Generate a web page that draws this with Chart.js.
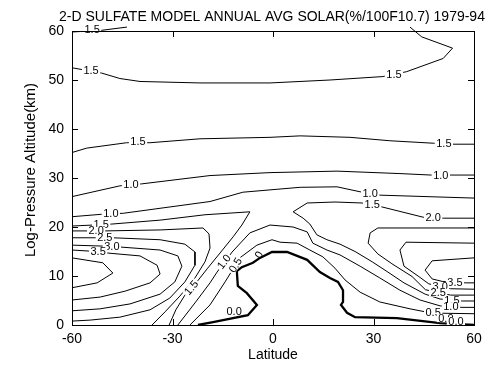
<!DOCTYPE html>
<html>
<head>
<meta charset="utf-8">
<script src="https://cdn.jsdelivr.net/npm/chart.js"></script>
<style>
  html, body { margin: 0; padding: 0; background: #fff; }
</style>
</head>
<body>
<canvas id="myChart" width="504" height="372"></canvas>
<script>
// 2-D sulfate model, annual avg solar response, contour lines
// each contour = list of [latitude, altitude km]
const FONT = '"Liberation Sans", Arial, sans-serif';
const chartTitle = '2-D SULFATE MODEL ANNUAL AVG SOLAR(%/100F10.7) 1979-94';
const latTicks = [-60, -30, 0, 30, 60];
const altTicks = [0, 10, 20, 30, 40, 50, 60];

const c15Top = [[-60, 59.8], [-51.6, 60.1], [-43.6, 60.8]];
const c15Upper = [[-60, 52.5], [-51.1, 51.4], [-45.7, 50.3], [-39.7, 49.7], [-21.8, 49.4], [-0.9, 49.4], [17.0, 50.0], [32.8, 50.7], [39.9, 51.7], [50.8, 54.4], [53.6, 56.5], [44.4, 58.8], [40.9, 60.8]];
const c15Mid = [[-60, 35.2], [-55.6, 36.1], [-43.7, 37.2], [-36.7, 37.2], [-21.8, 38.0], [-0.9, 38.3], [8.1, 38.6], [23.0, 38.3], [34.9, 37.6], [47.8, 37.1], [53.7, 36.9], [60, 36.9]];
const c10Upper = [[-60, 26.2], [-45.7, 28.4], [-39.2, 28.8], [-18.8, 30.5], [-0.9, 31.1], [19.1, 31.4], [37.9, 30.9], [47.2, 30.6], [53.4, 30.6], [60, 30.6]];
const c10Lower = [[-60, 22.1], [-51.1, 22.6], [-44.7, 22.8], [-18.8, 25.2], [-9.0, 27.1], [8.1, 28.1], [19.1, 28.2], [26.6, 27.1], [31.9, 26.5], [60, 25.9]];
const c15West = [[-60, 20.2], [-53.7, 20.4], [-48.1, 20.6], [-33.7, 21.4], [-20.3, 22.5], [-6.9, 23.1], [-9.3, 20.4], [-11.9, 18.0], [-15.8, 14.7], [-19.5, 11.6], [-22.5, 9.0], [-26.3, 6.1], [-29.0, 3.1], [-31.0, 0]];
const c20West = [[-60, 19.2], [-55.2, 19.2], [-50.2, 19.2], [-33.7, 19.4], [-20.9, 19.8], [-19.1, 18.6], [-18.8, 15.7], [-20.3, 12.9], [-23.3, 9.6], [-27.8, 5.9], [-32.2, 2.7], [-36.1, 0]];
const c25West = [[-60, 17.8], [-47.8, 17.8], [-33.7, 17.4], [-26.3, 16.5], [-23.3, 14.9], [-23.3, 12.2], [-26.3, 8.8], [-30.8, 5.5], [-36.7, 3.1], [-45.7, 1.6], [-54.6, 1.0], [-60, 0.8]];
const c30West = [[-60, 16.3], [-50.5, 16.1], [-45.4, 15.9], [-33.7, 15.3], [-28.4, 14.1], [-27.2, 12.0], [-29.3, 8.8], [-33.7, 6.3], [-42.7, 4.3], [-51.6, 3.3], [-60, 2.9]];
const c35West = [[-60, 15.3], [-55.2, 15.1], [-49.6, 14.7], [-39.7, 14.1], [-34.6, 12.2], [-33.7, 10.4], [-36.7, 8.6], [-44.2, 6.9], [-51.6, 5.7], [-60, 5.1]];
const c40West = [[-60, 13.7], [-50.8, 12.7], [-47.8, 10.6], [-52.5, 8.6], [-60, 7.6]];
const c10Centre = [[-28.4, 0], [-23.3, 4.5], [-18.8, 8.6], [-16.7, 10.8], [-12.2, 14.9], [-6.9, 18.8], [-0.9, 20.4], [6.0, 20.0], [10.2, 19.0], [11.9, 16.7], [16.1, 15.3], [20.0, 14.3], [26.0, 12.0], [31.9, 9.6], [37.9, 7.1], [43.9, 5.1], [49.9, 3.9], [56.4, 3.6], [60, 3.6]];
const c05Centre = [[-24.8, 0], [-18.8, 4.1], [-14.3, 8.8], [-12.5, 10.8], [-9.9, 13.7], [-4.8, 16.3], [-0.3, 17.4], [2.1, 16.9], [7.2, 16.7], [11.0, 15.3], [14.9, 13.9], [18.5, 11.6], [21.5, 9.2], [26.0, 6.7], [31.9, 4.7], [40.9, 3.3], [45.4, 2.7], [50.5, 2.4], [60, 2.3]];
const c00 = [[-22.4, 0], [-17.9, 0.6], [-7.5, 2.0], [-4.8, 4.1], [-7.8, 6.5], [-10.5, 8.0], [-10.8, 11.0], [-9.3, 11.8], [-6.0, 12.7], [-3.9, 13.7], [-0.3, 14.9], [4.2, 14.9], [10.2, 13.3], [14.0, 10.8], [17.0, 9.6], [19.4, 8.8], [20.9, 7.1], [20.9, 4.7], [20.3, 4.1], [22.1, 2.5], [24.5, 1.6], [37.0, 1.4], [49.9, 0.4], [60, 0]];
const c15East = [[60, 21.8], [50.8, 21.8], [44.8, 22.0], [32.5, 24.1], [26.6, 24.9], [18.5, 25.1], [10.2, 24.9], [6.0, 23.1], [9.0, 21.8], [11.0, 20.6], [13.1, 18.4], [16.1, 17.4], [20.0, 16.5], [24.5, 15.0], [29.6, 12.9], [34.3, 10.8], [39.1, 8.6], [45.4, 6.3], [49.9, 5.3], [56.5, 4.9], [60, 4.9]];
const c25East = [[60, 19.8], [31.3, 19.8], [29.0, 18.8], [28.4, 16.7], [31.3, 14.5], [35.5, 12.5], [41.5, 9.9], [45.5, 7.2], [53.0, 6.1], [60, 6.1]];
const c30East = [[60, 16.7], [39.7, 16.9], [37.9, 15.3], [39.1, 12.0], [43.3, 10.0], [46.5, 8.4], [53.0, 7.4], [60, 7.3]];
const c35East = [[60, 13.7], [47.5, 13.1], [45.4, 11.2], [47.5, 9.4], [50.5, 8.9], [57.6, 8.6], [60, 8.6]];

// contour labels: text, position (lat, km), angle in degrees, white box behind or not
const labelText = ['1.5', '1.5', '1.5', '1.5', '1.5', '1.0', '1.0', '1.0', '1.0', '1.5', '2.0', '2.5', '3.0', '3.5', '1.5', '2.0', '1.5', '1.0', '0.5', '0.0', '0', '3.5', '3.0', '2.5', '1.5', '1.0', '0.5', '0.0', '0.0'];
const labelLat = [-54.0, -54.3, 36.1, -40.3, 51.0, -42.4, 50.1, -48.4, 29.0, -51.3, -52.8, -50.2, -48.1, -52.2, 29.6, 47.8, -24.4, -14.6, -11.2, -11.6, -4.2, 54.3, 49.9, 49.3, 53.4, 53.1, 47.8, 51.6, 54.6];
const labelAlt = [60.4, 52.0, 51.2, 37.5, 37.1, 28.6, 30.6, 22.7, 26.9, 20.5, 19.2, 17.8, 16.0, 15.0, 24.5, 21.9, 7.6, 12.9, 12.2, 2.8, 14.3, 8.7, 7.8, 6.6, 5.1, 3.7, 2.6, 1.4, 0.8];
const labelAngle = [0, 0, 0, 0, 0, 0, 0, 0, 0, 0, 0, 0, 0, 0, 0, 0, -50, -53, -58, 0, -60, 0, 0, 0, 0, 0, 0, 0, 0];
const labelBox = [1, 1, 1, 1, 1, 1, 1, 1, 1, 1, 1, 1, 1, 1, 1, 1, 1, 1, 1, 0, 0, 1, 1, 1, 1, 1, 1, 1, 1];

const contours = [
  { pts: c15Top, w: 1, clip: false },
  { pts: c15Upper, w: 1, clip: false },
  { pts: c15Mid, w: 1 },
  { pts: c10Upper, w: 1 },
  { pts: c10Lower, w: 1 },
  { pts: c15West, w: 1 },
  { pts: c20West, w: 1 },
  { pts: c25West, w: 1 },
  { pts: c30West, w: 1 },
  { pts: c35West, w: 1 },
  { pts: c40West, w: 1 },
  { pts: c10Centre, w: 1 },
  { pts: c05Centre, w: 1 },
  { pts: c15East, w: 1 },
  { pts: c25East, w: 1 },
  { pts: c30East, w: 1 },
  { pts: c35East, w: 1 },
  { pts: c00, w: 2.3 }
];

const datasets = contours.map(c => {
  const ds = {
    data: c.pts.map(p => ({ x: p[0], y: p[1] })),
    showLine: true,
    borderColor: '#000',
    borderWidth: c.w,
    pointRadius: 0,
    tension: 0,
    fill: false
  };
  if (c.clip === false) ds.clip = false;
  return ds;
});

// labels sitting on the lines
const labelPlugin = {
  id: 'contourLabels',
  afterDatasetsDraw(chart) {
    const { ctx, scales: { x, y } } = chart;
    ctx.save();
    ctx.font = '11px ' + FONT;
    ctx.textAlign = 'center';
    ctx.textBaseline = 'middle';
    labelText.forEach((t, i) => {
      ctx.save();
      ctx.translate(x.getPixelForValue(labelLat[i]), y.getPixelForValue(labelAlt[i]));
      ctx.rotate(labelAngle[i] * Math.PI / 180);
      if (labelBox[i]) {
        const w = ctx.measureText(t).width + 3;
        ctx.fillStyle = '#fff';
        ctx.fillRect(-w / 2, -4, w, 8);
      }
      ctx.fillStyle = '#000';
      ctx.fillText(t, 0, 0.5);
      ctx.restore();
    });
    ctx.restore();
  }
};

// box, inward ticks on all four sides, titles
const framePlugin = {
  id: 'frame',
  afterDraw(chart) {
    const { ctx, chartArea: a, scales: { x, y } } = chart;
    ctx.save();
    ctx.strokeStyle = '#000';
    ctx.lineWidth = 1;
    ctx.strokeRect(a.left + 0.5, a.top + 0.5, a.right - a.left, a.bottom - a.top);
    ctx.beginPath();
    latTicks.forEach(v => {
      const px = Math.round(x.getPixelForValue(v)) + 0.5;
      ctx.moveTo(px, a.bottom); ctx.lineTo(px, a.bottom - 6);
      ctx.moveTo(px, a.top); ctx.lineTo(px, a.top + 6);
    });
    altTicks.forEach(v => {
      const py = Math.round(y.getPixelForValue(v)) + 0.5;
      ctx.moveTo(a.left, py); ctx.lineTo(a.left + 6, py);
      ctx.moveTo(a.right, py); ctx.lineTo(a.right - 6, py);
    });
    ctx.stroke();

    ctx.fillStyle = '#000';
    ctx.textAlign = 'center';
    ctx.textBaseline = 'middle';
    ctx.font = '14px ' + FONT;
    ctx.fillText(chartTitle, 272, 17);
    ctx.fillText('Latitude', (a.left + a.right) / 2, 355);
    ctx.save();
    ctx.translate(31, 170);
    ctx.rotate(-Math.PI / 2);
    ctx.font = '15px ' + FONT;
    ctx.fillText('Log-Pressure Altitude(km)', 0, 0);
    ctx.restore();
    ctx.restore();
  }
};

const context = document.getElementById('myChart').getContext('2d');
const myChart = new Chart(context, {
  type: 'scatter',
  data: { datasets: datasets },
  options: {
    responsive: false,
    animation: false,
    events: [],
    layout: { padding: { top: 31, right: 30, left: 0, bottom: 0 } },
    plugins: { legend: { display: false }, tooltip: { enabled: false }, title: { display: false } },
    scales: {
      x: {
        type: 'linear', min: -60, max: 60,
        afterBuildTicks: s => { s.ticks = latTicks.map(v => ({ value: v })); },
        afterFit: s => { s.height = 47; },
        grid: { display: false, drawTicks: false },
        border: { display: false },
        ticks: { color: '#000', font: { family: FONT, size: 14 }, padding: 6, maxRotation: 0, autoSkip: false }
      },
      y: {
        type: 'linear', min: 0, max: 60,
        afterBuildTicks: s => { s.ticks = altTicks.map(v => ({ value: v })); },
        afterFit: s => { s.width = 72; },
        grid: { display: false, drawTicks: false },
        border: { display: false },
        ticks: { color: '#000', font: { family: FONT, size: 14 }, padding: 8, autoSkip: false }
      }
    }
  },
  plugins: [labelPlugin, framePlugin]
});
</script>
</body>
</html>
